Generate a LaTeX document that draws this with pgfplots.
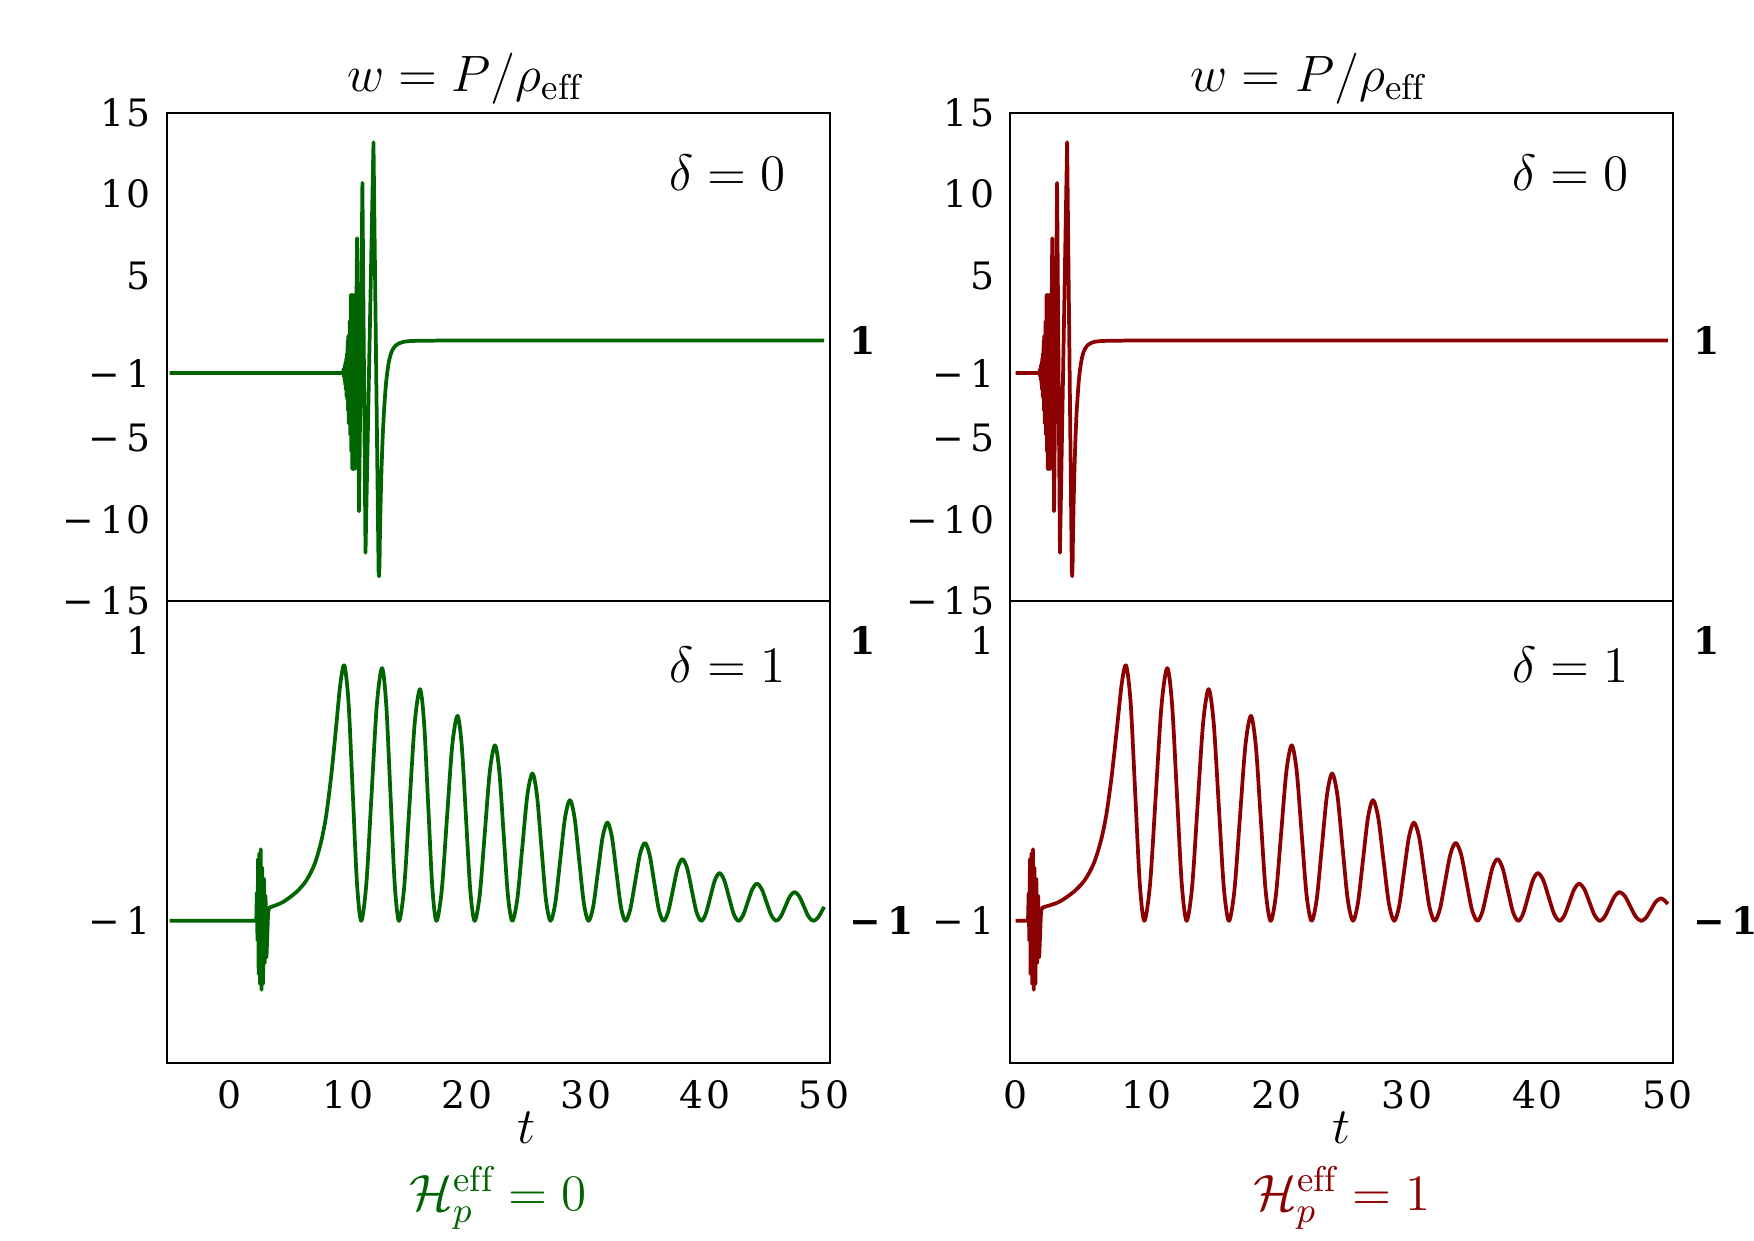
\RequirePackage{fix-cm}
\documentclass[border=0pt]{standalone}
\usepackage{fontspec}
\usepackage{pgfplots}
\pgfplotsset{compat=1.18}
\newfontfamily\tickfont[LetterSpace=6]{DejaVu Serif}
\definecolor{wgreen}{RGB}{0,100,0}
\definecolor{wred}{RGB}{139,0,0}

\tikzset{bigtext/.style={font=\fontsize{13}{15}\selectfont}}
\pgfplotsset{
  panel/.style={
    scale only axis, width=5.93cm, clip mode=individual,
    axis line style={line width=0.5pt},
    major tick length=0pt,
    tick style={draw=none},
    tick label style={font=\tickfont\fontsize{9.6}{11}\selectfont},
    yticklabel style={xshift=-0.5pt},
    xticklabel style={yshift=-1pt},
    every axis plot/.append style={line width=0.95pt, line join=round},
  },
  toppanel/.style={panel, height=4.36cm, ymin=-15, ymax=15,
    ytick={15,10,5,-1,-5,-10,-15},
    yticklabels={15,10,5,{−\,1},{−\,5},{−\,10},{−\,15}},
    xtick=\empty},
  botpanel/.style={panel, height=4.13cm, ymin=-2.01, ymax=1.28,
    ytick={1,-1}, yticklabels={1,{−\,1}},
    xtick={0,10,20,30,40,50}, xticklabels={0,10,20,30,40,50}},
  rightlabels/.style={scale only axis, width=5.93cm, xmin=0, xmax=1,
    hide x axis, axis y line*=right, axis line style={draw=none},
    major tick length=0pt, tick style={draw=none},
    yticklabel style={font=\tickfont\bfseries\fontsize{9.6}{11}\selectfont, xshift=1.5pt}},
}

\begin{document}
\begin{tikzpicture}
\useasboundingbox (0,0) rectangle (15.68,11.09);

% ---------------- left column: H_p^eff = 0 ----------------
\begin{axis}[toppanel, at={(1.49cm,5.72cm)}, anchor=south west, xmin=-5.25, xmax=50.5]
\addplot[wgreen, sharp plot] coordinates {
(-5,-1) (9.55,-1) (9.60,-0.8) (9.63,-1.2) (9.66,-0.7) (9.69,-1.4) (9.72,-0.5) (9.75,-1.7)
(9.78,-0.3) (9.81,-2.0) (9.84,-0.1) (9.87,-2.45) (9.90,0.2) (9.93,-2.6) (9.96,1.0) (9.99,-3.3)
(10.02,1.3) (10.05,-4.1) (10.08,1.3) (10.11,-4.1) (10.14,2.2) (10.18,-4.8) (10.22,3.8) (10.26,-5.8)
(10.30,3.8) (10.34,-6.9) (10.39,3.8) (10.44,-6.9) (10.50,3.8) (10.57,-6.9) (10.75,7.3) (10.92,-9.5)
(11.20,10.7) (11.46,-12.05) (12.13,13.2) (12.56,-13.2) (12.60,-13.5) (12.64,-12.8) (12.66,-11.5)
(12.72,-9.3) (12.80,-7.0) (12.90,-5.0) (13.0,-3.5) (13.1,-2.4) (13.2,-1.5) (13.3,-0.9) (13.4,-0.4)
(13.5,-0.05) (13.65,0.3) (13.8,0.52) (14.0,0.7) (14.3,0.84) (14.7,0.93) (15.2,0.97) (16,0.99)
(18,1.0) (50,1.0)
};
\node[bigtext, anchor=base, xshift=-0.3cm, yshift=0.19cm] at (rel axis cs:0.5,1) {$w = P/\rho_{\mathrm{eff}}$};
\node[bigtext, anchor=north east, inner sep=0pt, xshift=-0.39cm, yshift=-0.37cm] at (rel axis cs:1,1) {$\delta = 0$};
\end{axis}
\begin{axis}[rightlabels, at={(1.49cm,5.72cm)}, anchor=south west, height=4.36cm, ymin=-15, ymax=15, ytick={1}, yticklabels={1}]
\end{axis}

\begin{axis}[botpanel, at={(1.49cm,1.59cm)}, anchor=south west, xmin=-5.25, xmax=50.5]
\addplot[wgreen, sharp plot] coordinates {
(-5,-1) (2.28,-1.0) (2.33,-0.8) (2.38,-1.14) (2.43,-0.56) (2.48,-1.38) (2.54,-0.52) (2.60,-1.45)
(2.66,-0.49) (2.72,-1.49) (2.78,-0.62) (2.85,-1.45) (2.92,-0.70) (2.99,-1.30) (3.06,-0.82)
(3.14,-1.26) (3.28,-0.93) (3.40,-0.905) (3.56,-0.90)
};
\addplot[wgreen, smooth] coordinates {
(3.56,-0.90) (4.54,-0.865) (5.66,-0.794) (6.50,-0.711) (7.20,-0.592) (7.76,-0.426) (8.18,-0.236)
(8.60,0.049) (9.02,0.406) (9.35,0.69) (9.68,0.82)
(10.035,0.554) (10.39,-0.09) (10.745,-0.734) (11.10,-1)
(11.53,-0.737) (11.97,-0.10) (12.41,0.537) (12.85,0.80)
(13.205,0.537) (13.56,-0.10) (13.915,-0.737) (14.27,-1)
(14.7125,-0.759) (15.155,-0.175) (15.5975,0.409) (16.04,0.65)
(16.385,0.409) (16.73,-0.175) (17.075,-0.759) (17.42,-1)
(17.8625,-0.787) (18.305,-0.27) (18.7475,0.247) (19.19,0.46)
(19.55,0.247) (19.91,-0.27) (20.27,-0.787) (20.63,-1)
(21.0575,-0.8175) (21.485,-0.375) (21.9125,0.0675) (22.34,0.25)
(22.7025,0.0675) (23.065,-0.375) (23.4275,-0.8175) (23.79,-1)
(24.215,-0.847) (24.64,-0.475) (25.065,-0.103) (25.49,0.05)
(25.8675,-0.103) (26.245,-0.475) (26.6225,-0.847) (27.0,-1)
(27.41,-0.874) (27.82,-0.57) (28.23,-0.266) (28.64,-0.14)
(29.03,-0.266) (29.42,-0.57) (29.81,-0.874) (30.2,-1)
(30.5975,-0.898) (30.995,-0.65) (31.3925,-0.402) (31.79,-0.30)
(32.1675,-0.402) (32.545,-0.65) (32.9225,-0.898) (33.3,-1)
(33.71,-0.919) (34.12,-0.7225) (34.53,-0.526) (34.94,-0.445)
(35.33,-0.526) (35.72,-0.7225) (36.11,-0.919) (36.5,-1)
(36.8975,-0.936) (37.295,-0.78) (37.6925,-0.624) (38.09,-0.56)
(38.485,-0.624) (38.88,-0.78) (39.275,-0.936) (39.67,-1)
(40.055,-0.95) (40.44,-0.83) (40.825,-0.71) (41.21,-0.66)
(41.6075,-0.71) (42.005,-0.83) (42.4025,-0.95) (42.8,-1)
(43.19,-0.961) (43.58,-0.8675) (43.97,-0.774) (44.36,-0.735)
(44.7625,-0.774) (45.165,-0.8675) (45.5675,-0.961) (45.97,-1)
(46.3575,-0.97) (46.745,-0.8975) (47.1325,-0.825) (47.52,-0.795)
(47.9125,-0.825) (48.305,-0.8975) (48.6975,-0.97) (49.09,-1)
(49.485,-0.977) (49.88,-0.92) (50.0,-0.90)
};
\node[bigtext, anchor=north east, inner sep=0pt, xshift=-0.39cm, yshift=-0.41cm] at (rel axis cs:1,1) {$\delta = 1$};
\node[bigtext, anchor=base, inner sep=0pt, yshift=-0.72cm] at (axis cs:25,-2.01) {$t$};
\node[bigtext, anchor=base, inner sep=0pt, text=wgreen, yshift=-1.32cm] at (rel axis cs:0.5,0) {$\mathcal{H}_p^{\mathrm{eff}} = 0$};
\end{axis}
\begin{axis}[rightlabels, at={(1.49cm,1.59cm)}, anchor=south west, height=4.13cm, ymin=-2.01, ymax=1.28, ytick={1,-1}, yticklabels={1,{−\,1}}]
\end{axis}

% ---------------- right column: H_p^eff = 1 ----------------
\begin{axis}[toppanel, at={(9.03cm,5.72cm)}, anchor=south west, xmin=-0.43, xmax=50.43]
\addplot[wred, sharp plot] coordinates {
(0,-1) (1.80,-1) (1.84,-0.8) (1.87,-1.2) (1.89,-0.7) (1.92,-1.4) (1.94,-0.5) (1.97,-1.7)
(1.99,-0.3) (2.02,-2.0) (2.04,-0.1) (2.07,-2.45) (2.09,0.2) (2.12,-2.6) (2.14,1.0) (2.17,-3.3)
(2.19,1.3) (2.22,-4.1) (2.24,1.3) (2.27,-4.1) (2.29,2.2) (2.32,-4.8) (2.36,3.8) (2.39,-5.8)
(2.42,3.8) (2.46,-6.9) (2.50,3.8) (2.54,-6.9) (2.59,3.8) (2.65,-6.9) (2.80,7.3) (2.94,-9.5)
(3.17,10.7) (3.39,-12.05) (3.94,13.2) (4.30,-13.2) (4.33,-13.5) (4.36,-12.8) (4.38,-11.5)
(4.43,-9.3) (4.50,-7.0) (4.58,-5.0) (4.66,-3.5) (4.75,-2.4) (4.83,-1.5) (4.91,-0.9) (5.00,-0.4)
(5.08,-0.05) (5.20,0.3) (5.33,0.52) (5.49,0.7) (5.74,0.84) (6.07,0.93) (6.49,0.97) (7.15,0.99)
(8.81,1.0) (50,1.0)
};
\node[bigtext, anchor=base, xshift=-0.3cm, yshift=0.19cm] at (rel axis cs:0.5,1) {$w = P/\rho_{\mathrm{eff}}$};
\node[bigtext, anchor=north east, inner sep=0pt, xshift=-0.39cm, yshift=-0.37cm] at (rel axis cs:1,1) {$\delta = 0$};
\end{axis}
\begin{axis}[rightlabels, at={(9.03cm,5.72cm)}, anchor=south west, height=4.36cm, ymin=-15, ymax=15, ytick={1}, yticklabels={1}]
\end{axis}

\begin{axis}[botpanel, at={(9.03cm,1.59cm)}, anchor=south west, xmin=-0.43, xmax=50.43]
\addplot[wred, sharp plot] coordinates {
(0,-1) (0.94,-1.0) (0.99,-0.8) (1.04,-1.14) (1.09,-0.56) (1.14,-1.38) (1.20,-0.52) (1.26,-1.45)
(1.32,-0.49) (1.38,-1.49) (1.44,-0.62) (1.51,-1.45) (1.58,-0.70) (1.65,-1.30) (1.72,-0.82)
(1.80,-1.26) (1.94,-0.93) (2.06,-0.905) (2.22,-0.90)
};
\addplot[wred, smooth] coordinates {
(2.22,-0.90) (3.32,-0.865) (4.44,-0.794) (5.28,-0.711) (5.98,-0.592) (6.54,-0.426) (6.96,-0.236)
(7.38,0.049) (7.80,0.406) (8.13,0.69) (8.46,0.82)
(8.81,0.554) (9.16,-0.09) (9.51,-0.734) (9.86,-1)
(10.30,-0.737) (10.74,-0.10) (11.18,0.537) (11.62,0.80)
(11.99,0.537) (12.36,-0.10) (12.73,-0.737) (13.10,-1)
(13.5225,-0.759) (13.945,-0.175) (14.3675,0.409) (14.79,0.65)
(15.1775,0.409) (15.565,-0.175) (15.9525,-0.759) (16.34,-1)
(16.7625,-0.787) (17.185,-0.27) (17.6075,0.247) (18.03,0.46)
(18.4075,0.247) (18.785,-0.27) (19.1625,-0.787) (19.54,-1)
(19.945,-0.8175) (20.35,-0.375) (20.755,0.0675) (21.16,0.25)
(21.54,0.0675) (21.92,-0.375) (22.30,-0.8175) (22.68,-1)
(23.075,-0.847) (23.47,-0.475) (23.865,-0.103) (24.26,0.05)
(24.6575,-0.103) (25.055,-0.475) (25.4525,-0.847) (25.85,-1)
(26.235,-0.874) (26.62,-0.57) (27.005,-0.266) (27.39,-0.14)
(27.795,-0.266) (28.20,-0.57) (28.605,-0.874) (29.01,-1)
(29.39,-0.898) (29.77,-0.65) (30.15,-0.402) (30.53,-0.30)
(30.925,-0.402) (31.32,-0.65) (31.715,-0.898) (32.11,-1)
(32.515,-0.919) (32.92,-0.7225) (33.325,-0.526) (33.73,-0.445)
(34.145,-0.526) (34.56,-0.7225) (34.975,-0.919) (35.39,-1)
(35.775,-0.936) (36.16,-0.78) (36.545,-0.624) (36.93,-0.56)
(37.3275,-0.624) (37.725,-0.78) (38.1225,-0.936) (38.52,-1)
(38.8975,-0.95) (39.275,-0.83) (39.6525,-0.71) (40.03,-0.66)
(40.445,-0.71) (40.86,-0.83) (41.275,-0.95) (41.69,-1)
(42.0675,-0.961) (42.445,-0.8675) (42.8225,-0.774) (43.20,-0.735)
(43.595,-0.774) (43.99,-0.8675) (44.385,-0.961) (44.78,-1)
(45.16,-0.97) (45.54,-0.8975) (45.92,-0.825) (46.30,-0.795)
(46.7125,-0.825) (47.125,-0.8975) (47.5375,-0.97) (47.95,-1)
(48.3275,-0.977) (48.705,-0.92) (49.0825,-0.863) (49.46,-0.84)
(49.75,-0.855) (50.0,-0.88)
};
\node[bigtext, anchor=north east, inner sep=0pt, xshift=-0.39cm, yshift=-0.41cm] at (rel axis cs:1,1) {$\delta = 1$};
\node[bigtext, anchor=base, inner sep=0pt, yshift=-0.72cm] at (axis cs:25,-2.01) {$t$};
\node[bigtext, anchor=base, inner sep=0pt, text=wred, yshift=-1.32cm] at (rel axis cs:0.5,0) {$\mathcal{H}_p^{\mathrm{eff}} = 1$};
\end{axis}
\begin{axis}[rightlabels, at={(9.03cm,1.59cm)}, anchor=south west, height=4.13cm, ymin=-2.01, ymax=1.28, ytick={1,-1}, yticklabels={1,{−\,1}}]
\end{axis}
\end{tikzpicture}
\end{document}
